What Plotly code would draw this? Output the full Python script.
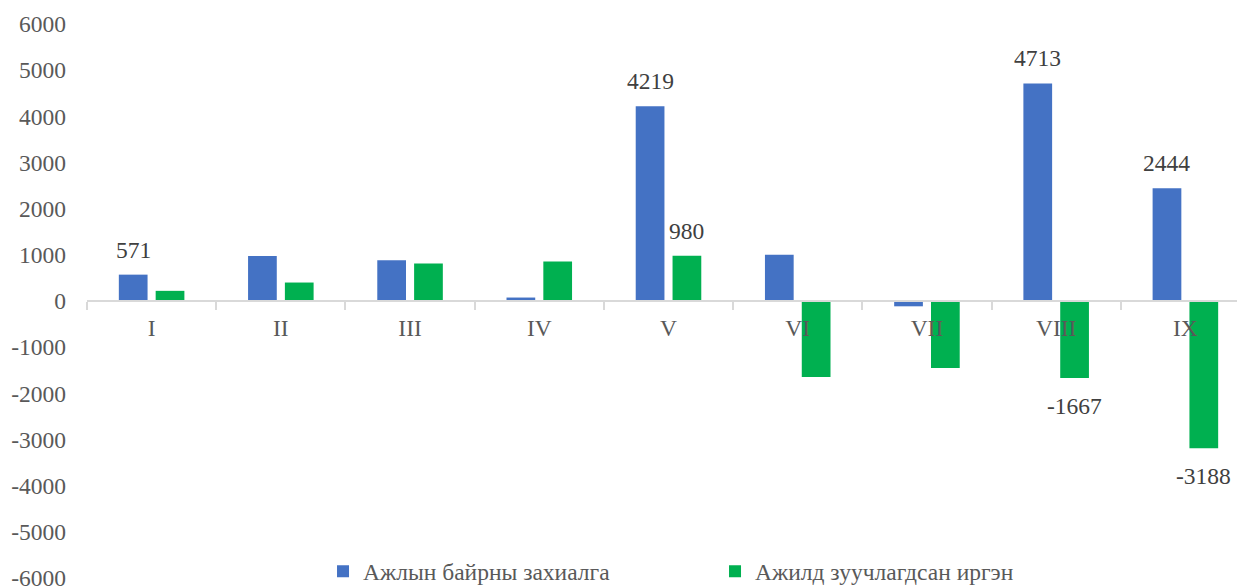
import plotly.graph_objects as go

categories = ["I", "II", "III", "IV", "V", "VI", "VII", "VIII", "IX"]
orders = [571, 975, 880, 75, 4219, 1000, -115, 4713, 2444]
placed = [220, 400, 810, 855, 980, -1645, -1450, -1667, -3188]
orders_labels = [571, None, None, None, 4219, None, None, 4713, 2444]
placed_labels = [None, None, None, None, 980, None, None, -1667, -3188]
y_ticks = list(range(-6000, 6001, 1000))

series_names = ["Ажлын байрны захиалга", "Ажилд зуучлагдсан иргэн"]
blue = "#4472C4"
green = "#00B050"
font_family = "Liberation Serif, Times New Roman, serif"
fsize = 23.5

fig = go.Figure()
fig.add_trace(go.Bar(x=categories, y=orders, name=series_names[0],
                     marker=dict(color=blue, line=dict(width=0))))
fig.add_trace(go.Bar(x=categories, y=placed, name=series_names[1],
                     marker=dict(color=green, line=dict(width=0))))

# page body has an 8px default margin, so the figure is drawn 8px in/down;
# the plot area runs slightly past the right edge of the window, as in the original
W, H = 1242, 586
ml, mr, mt, mb = 79, 0, 16, 16
bargap = 0.43
xrange_ = [-0.5, 8.5]
cat_px = (W - ml - mr) / (xrange_[1] - xrange_[0])
half_slot = cat_px * (1 - bargap) / 4

annotations = []
for labels, sign in ((orders_labels, -1), (placed_labels, 1)):
    for c, v in zip(categories, labels):
        if v is None:
            continue
        annotations.append(dict(
            x=c, y=v, xref="x", yref="y", text=str(v), showarrow=False,
            xshift=sign * half_slot, yshift=25 if v >= 0 else -28,
            font=dict(family=font_family, size=fsize, color="#404040")))

fig.update_layout(
    width=W, height=H,
    margin=dict(l=ml, r=mr, t=mt, b=mb, autoexpand=False),
    paper_bgcolor="white", plot_bgcolor="white",
    barmode="group", bargap=bargap, bargroupgap=0.22,
    font=dict(family=font_family, size=fsize, color="#595959"),
    annotations=annotations,
    showlegend=True,
    legend=dict(orientation="h", x=0.540, xanchor="center", y=0.012, yanchor="middle",
                font=dict(family=font_family, size=fsize, color="#595959"),
                entrywidth=347, bgcolor="rgba(0,0,0,0)"),
    xaxis=dict(type="category", range=xrange_, showgrid=False, zeroline=False,
               automargin=False,
               showline=True, linecolor="#D9D9D9", linewidth=2,
               anchor="free", position=0.5,
               ticks="outside", tickson="boundaries", ticklen=8, tickwidth=2,
               tickcolor="#D9D9D9", ticklabelstandoff=6,
               tickfont=dict(family=font_family, size=fsize, color="#595959")),
    yaxis=dict(range=[-6000, 6000], tickvals=y_ticks, ticktext=[str(t) for t in y_ticks],
               automargin=False, ticklabeloverflow="allow",
               showgrid=False, zeroline=False, showline=False, ticks="",
               ticklabelstandoff=20,
               tickfont=dict(family=font_family, size=fsize, color="#595959")),
)

fig.write_html("out.html")
